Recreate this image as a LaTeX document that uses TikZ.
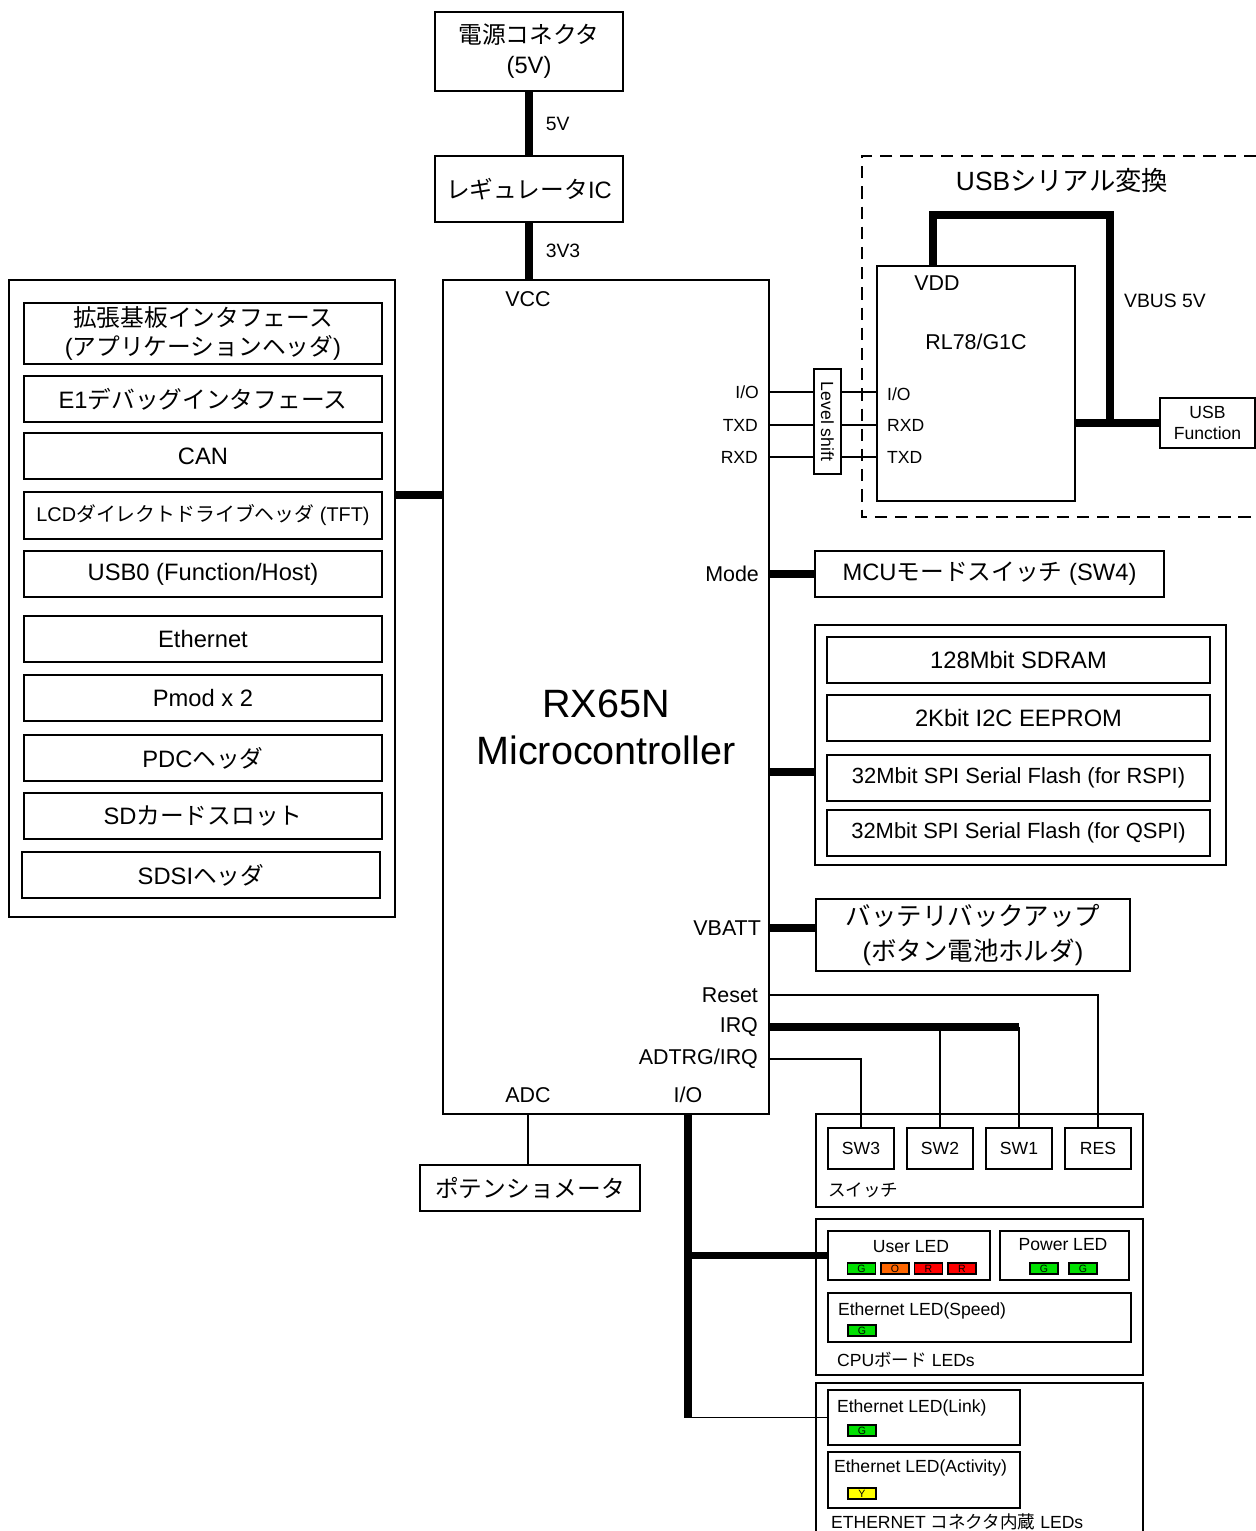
\documentclass[tikz,border=0pt]{standalone}
\usepackage{fontspec}
\setmainfont{Liberation Sans}
\newfontfamily\jpfont{Noto Sans CJK JP}
\newcommand{\jp}[1]{{\jpfont #1}}
\newcommand{\pxu}{0.02cm}
\newcommand{\fbig}{\fontsize{13.5}{17}\selectfont}
\newcommand{\fpin}{\fontsize{12.2}{14}\selectfont}
\newcommand{\fmid}{\fontsize{11}{13}\selectfont}
\newcommand{\fsmall}{\fontsize{10}{12.3}\selectfont}
\newcommand{\flcd}{\fontsize{11.3}{13}\selectfont}
\newcommand{\fflash}{\fontsize{12.5}{15}\selectfont}
\newcommand{\fbat}{\fontsize{14.5}{20}\selectfont}
\newcommand{\ftitle}{\fontsize{15}{18}\selectfont}
\newcommand{\fmcu}{\fontsize{22.5}{26.7}\selectfont}
\newcommand{\fled}{\fontsize{6}{6}\selectfont}
\definecolor{ledgreen}{HTML}{00E000}
\definecolor{ledorange}{HTML}{FF6600}
\definecolor{ledred}{HTML}{FF0000}
\definecolor{ledyellow}{HTML}{FFFF00}

\begin{document}
\begin{tikzpicture}[x=0.02cm, y=-0.02cm,
  blk/.style 2 args={draw, line width=0.8pt, minimum width=#1*\pxu, minimum height=#2*\pxu, inner sep=1pt, align=center, font=\fbig},
  pin/.style={inner sep=1pt, font=\fpin},
  bus/.style={line width=4.5pt},
  wire/.style={line width=0.7pt},
  led/.style={draw, line width=0.6pt, fill=#1, minimum width=28*\pxu, minimum height=11*\pxu, inner sep=0pt, font=\fled}
]
  \useasboundingbox (0,0) rectangle (1256,1531);

  % power supply
  \node[blk={188}{79}] (pwr) at (529,51.5) {\jp{電源コネクタ}\\(5V)};
  \node[blk={188}{66}] (reg) at (529,189) {\jp{レギュレータ}IC};
  \node[blk={326}{834}] (mcu) at (606,697) {};
  \node[font=\fmcu, align=center] (mcuname) at (606,727) {RX65N\\Microcontroller};
  \node[pin] (pvcc) at (528,299) {VCC};
  \draw[bus] (pwr) -- (reg) node[midway, right, xshift=4pt, font=\fmid] {5V};
  \draw[bus] (reg.south) -- (reg.south |- mcu.north) node[midway, right, xshift=4pt, font=\fmid] {3V3};

  % interfaces
  \node[blk={386}{637}] (ifbox) at (202,598.5) {};
  \node[blk={358}{61}] (appif) at (203,333.5) {\jp{拡張基板インタフェース}\\(\jp{アプリケーションヘッダ})};
  \node[blk={358}{46}] (e1) at (203,399) {E1\jp{デバッグインタフェース}};
  \node[blk={358}{46}] (can) at (203,456) {CAN};
  \node[blk={358}{47}, font=\flcd] (lcd) at (203,515.5) {LCD\jp{ダイレクトドライブヘッダ} (TFT)};
  \node[blk={358}{46}] (usb0) at (203,574) {USB0 (Function/Host)};
  \node[blk={358}{46}] (eth) at (203,639) {Ethernet};
  \node[blk={358}{46}] (pmod) at (203,698) {Pmod x 2};
  \node[blk={358}{46}] (pdc) at (203,758) {PDC\jp{ヘッダ}};
  \node[blk={358}{46}] (sdslot) at (203,816) {SD\jp{カードスロット}};
  \node[blk={358}{46}] (sdsi) at (201,875) {SDSI\jp{ヘッダ}};
  \coordinate (ifjoin) at (419,495);
  \draw[bus] (ifbox.east |- ifjoin) -- (mcu.west |- ifjoin);

  % usb serial
  \draw[line width=0.8pt, dash pattern=on 7pt off 4.5pt] (1256,156) -| (862,517) -- (1256,517);
  \node[font=\ftitle] (usbtitle) at (1062,181) {USB\jp{シリアル変換}};
  \node[blk={198}{235}] (rl) at (976,383.5) {};
  \node[pin] (rlname) at (976,342) {RL78/G1C};
  \node[pin] (pvdd) at (937,283) {VDD};
  \node[blk={105}{27}, rotate=-90, inner sep=0pt, font=\fsmall] (ls) at (827.5,421.5) {Level shift};
  \node[pin, font=\fsmall, anchor=east] (mio) at (761,392) {I/O};
  \node[pin, font=\fsmall, anchor=east] (mtxd) at (760,425) {TXD};
  \node[pin, font=\fsmall, anchor=east] (mrxd) at (760,457) {RXD};
  \node[pin, font=\fsmall, anchor=west] (rio) at (885,394) {I/O};
  \node[pin, font=\fsmall, anchor=west] (rrxd) at (885,425) {RXD};
  \node[pin, font=\fsmall, anchor=west] (rtxd) at (885,457) {TXD};
  \draw[wire] (mcu.east |- mio) -- (ls.south |- mio);
  \draw[wire] (ls.north |- mio) -- (rl.west |- mio);
  \draw[wire] (mcu.east |- mtxd) -- (ls.south |- mtxd);
  \draw[wire] (ls.north |- mtxd) -- (rl.west |- mtxd);
  \draw[wire] (mcu.east |- mrxd) -- (ls.south |- mrxd);
  \draw[wire] (ls.north |- mrxd) -- (rl.west |- mrxd);
  \node[blk={95}{50}, font=\fsmall] (usbf) at (1207.5,423) {USB\\Function};
  \node[font=\fmid] (vbuslbl) at (1165,301) {VBUS 5V};
  \coordinate (vddpin) at (933,266);
  \coordinate (vbtop) at (1110,215);
  \coordinate (vbus) at (1110,423);
  \draw[bus] (vddpin) |- (vbtop) -- (vbus);
  \draw[bus] (rl.east |- usbf) -- (usbf);

  % mode switch and memories
  \node[pin, anchor=east] (pmode) at (761,574) {Mode};
  \node[blk={349}{46}] (sw4) at (989.5,574) {MCU\jp{モードスイッチ} (SW4)};
  \draw[bus] (mcu.east |- pmode) -- (sw4);
  \node[blk={411}{240}] (mem) at (1020.5,745) {};
  \node[blk={383}{46}] (sdram) at (1018.5,660) {128Mbit SDRAM};
  \node[blk={383}{46}] (eeprom) at (1018.5,718) {2Kbit I2C EEPROM};
  \node[blk={383}{46}, font=\fflash] (rspi) at (1018.5,778) {32Mbit SPI Serial Flash (for RSPI)};
  \node[blk={383}{46}, font=\fflash] (qspi) at (1018.5,833) {32Mbit SPI Serial Flash (for QSPI)};
  \coordinate (memjoin) at (792,772);
  \draw[bus] (mcu.east |- memjoin) -- (mem.west |- memjoin);

  % battery
  \node[pin, anchor=east] (pvbatt) at (763,928) {VBATT};
  \node[blk={314}{72}, font=\fbat] (bat) at (973,935) {\jp{バッテリバックアップ}\\(\jp{ボタン電池ホルダ})};
  \draw[bus] (mcu.east |- pvbatt) -- (bat.west |- pvbatt);

  % switches
  \node[pin, anchor=east] (preset) at (760,995) {Reset};
  \node[pin, anchor=east] (pirq) at (760,1027) {IRQ};
  \node[pin, anchor=east] (padtrg) at (760,1059) {ADTRG/IRQ};
  \node[pin] (padc) at (528,1095) {ADC};
  \node[pin] (pio) at (688,1095) {I/O};
  \node[blk={327}{93}] (swbox) at (979.5,1160.5) {};
  \node[blk={66}{41}, font=\fsmall] (sw3) at (861,1148.5) {SW3};
  \node[blk={66}{41}, font=\fsmall] (sw2) at (940,1148.5) {SW2};
  \node[blk={66}{41}, font=\fsmall] (sw1) at (1019,1148.5) {SW1};
  \node[blk={66}{41}, font=\fsmall] (res) at (1098,1148.5) {RES};
  \node[font=\fsmall, anchor=west, inner sep=1pt] (swlbl) at (826,1190) {\jp{スイッチ}};
  \draw[wire] (mcu.east |- preset) -| (res.north);
  \draw[bus] (mcu.east |- pirq) -- (sw1.north |- pirq);
  \draw[wire] (sw2.north |- pirq) -- (sw2.north);
  \draw[wire] (sw1.north |- pirq) -- (sw1.north);
  \draw[wire] (mcu.east |- padtrg) -| (sw3.north);

  % potentiometer
  \node[blk={220}{46}] (pot) at (530,1188) {\jp{ポテンショメータ}};
  \draw[wire] (padc |- mcu.south) -- (padc |- pot.north);

  % cpu board leds
  \node[blk={327}{156}] (cpuled) at (979.5,1297) {};
  \node[blk={162}{49}] (uled) at (909,1255.5) {};
  \node[font=\fsmall] (uledlbl) at (911,1247) {User LED};
  \node[led=ledgreen] (ul1) at (861.5,1268.5) {G};
  \node[led=ledorange] (ul2) at (895,1268.5) {O};
  \node[led=ledred] (ul3) at (928.5,1268.5) {R};
  \node[led=ledred] (ul4) at (962,1268.5) {R};
  \node[blk={129}{49}] (pled) at (1064.5,1255.5) {};
  \node[font=\fsmall] (pledlbl) at (1063,1245) {Power LED};
  \node[led=ledgreen] (pl1) at (1044,1268.5) {G};
  \node[led=ledgreen] (pl2) at (1083,1268.5) {G};
  \node[blk={303}{49}] (spdled) at (979.5,1317.5) {};
  \node[font=\fsmall, anchor=west, inner sep=1pt] (spdlbl) at (836,1311) {Ethernet LED(Speed)};
  \node[led=ledgreen] (sl1) at (862,1330.5) {G};
  \node[font=\fsmall, anchor=west, inner sep=1pt] (cpulbl) at (835,1360) {CPU\jp{ボード} LEDs};

  % ethernet connector leds
  \draw[line width=0.8pt] (816,1531) |- (1143,1383) -- (1143,1531);
  \node[blk={192}{55}] (elink) at (924,1417.5) {};
  \node[font=\fsmall, anchor=west, inner sep=1pt] (elinklbl) at (835,1408) {Ethernet LED(Link)};
  \node[led=ledgreen] (el1) at (862,1430.5) {G};
  \node[blk={192}{56}] (eact) at (924,1480) {};
  \node[font=\fsmall, anchor=west, inner sep=1pt] (eactlbl) at (832,1468) {Ethernet LED(Activity)};
  \node[led=ledyellow] (ea1) at (862,1493.5) {Y};
  \node[font=\fsmall, anchor=west, inner sep=1pt] (ethlbl) at (829,1522) {ETHERNET \jp{コネクタ内蔵} LEDs};

  \draw[bus] (pio |- mcu.south) -- (pio |- elink);
  \draw[wire] (pio |- elink) -- (elink);
  \draw[bus] (pio |- uled) -- (uled);
\end{tikzpicture}
\end{document}
